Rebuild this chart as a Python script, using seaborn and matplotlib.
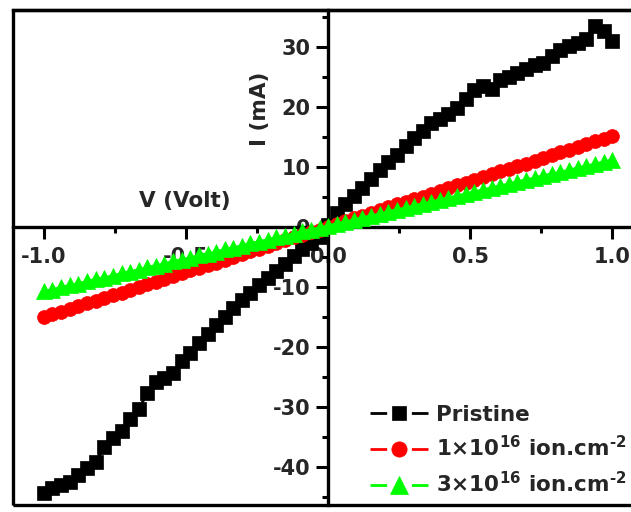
import matplotlib
matplotlib.use("Agg")
import matplotlib.pyplot as plt
from matplotlib.patches import Rectangle
from matplotlib.ticker import MultipleLocator
import seaborn as sns
import pandas as pd

# Bias voltage sweep (V)
voltage = [
    -1.000, -0.970, -0.939, -0.909, -0.879, -0.848, -0.818, -0.788, -0.758, -0.727,
    -0.697, -0.667, -0.636, -0.606, -0.576, -0.545, -0.515, -0.485, -0.455, -0.424,
    -0.394, -0.364, -0.333, -0.303, -0.273, -0.242, -0.212, -0.182, -0.152, -0.121,
    -0.091, -0.061, -0.030, 0.000, 0.030, 0.061, 0.091, 0.121, 0.152, 0.182,
    0.212, 0.242, 0.273, 0.303, 0.333, 0.364, 0.394, 0.424, 0.455, 0.485,
    0.515, 0.545, 0.576, 0.606, 0.636, 0.667, 0.697, 0.727, 0.758, 0.788,
    0.818, 0.848, 0.879, 0.909, 0.939, 0.970, 1.000,
]

# Current (mA) for each sample
current_pristine = [
    -44.4, -43.6, -43.1, -42.6, -41.4, -40.2, -39.2, -36.8, -35.3, -34.0,
    -32.0, -30.4, -27.8, -25.9, -25.2, -24.4, -22.4, -21.0, -19.4, -17.9,
    -16.4, -15.0, -13.5, -12.2, -11.1, -9.7, -8.5, -7.4, -6.2, -4.9,
    -3.8, -2.8, -1.7, 0.2, 2.3, 3.7, 5.1, 6.5, 8.0, 9.4,
    10.7, 12.0, 13.5, 14.7, 16.0, 17.3, 18.0, 18.7, 19.8, 21.2,
    22.8, 23.4, 23.0, 24.4, 25.0, 25.6, 26.2, 26.9, 27.2, 28.5,
    29.5, 30.1, 30.6, 31.2, 33.5, 32.6, 31.0,
]
current_1e16 = [
    -15.1, -14.6, -14.2, -13.7, -13.3, -12.8, -12.4, -11.9, -11.4, -11.0,
    -10.5, -10.1, -9.6, -9.2, -8.7, -8.2, -7.8, -7.3, -6.9, -6.4,
    -6.0, -5.5, -5.0, -4.6, -4.1, -3.7, -3.2, -2.7, -2.3, -1.8,
    -1.4, -0.9, -0.5, 0.0, 0.5, 0.9, 1.4, 1.8, 2.3, 2.7,
    3.2, 3.7, 4.1, 4.6, 5.0, 5.5, 6.0, 6.4, 6.9, 7.3,
    7.8, 8.2, 8.7, 9.2, 9.6, 10.1, 10.5, 11.0, 11.4, 11.9,
    12.4, 12.8, 13.3, 13.7, 14.2, 14.6, 15.1,
]
current_3e16 = [
    -10.8, -10.5, -10.1, -9.8, -9.5, -9.1, -8.8, -8.5, -8.2, -7.8,
    -7.5, -7.2, -6.8, -6.5, -6.2, -5.8, -5.5, -5.2, -4.8, -4.5,
    -4.2, -3.8, -3.5, -3.2, -2.8, -2.5, -2.2, -1.8, -1.5, -1.2,
    -0.8, -0.5, -0.2, 0.1, 0.5, 0.8, 1.1, 1.5, 1.8, 2.1,
    2.5, 2.8, 3.1, 3.5, 3.8, 4.1, 4.5, 4.8, 5.1, 5.5,
    5.8, 6.1, 6.5, 6.8, 7.1, 7.5, 7.8, 8.1, 8.5, 8.8,
    9.1, 9.4, 9.8, 10.1, 10.4, 10.8, 11.1,
]

series_labels = [
    "Pristine",
    "1\u00d710$^{16}$ ion.cm$^{\\text{-2}}$",
    "3\u00d710$^{16}$ ion.cm$^{\\text{-2}}$",
]
x_ticks = [-1.0, -0.5, 0.0, 0.5, 1.0]
y_ticks = [-40, -30, -20, -10, 0, 10, 20, 30]

sns.set_style("ticks")
plt.rcParams["font.family"] = ["DejaVu Sans"]
plt.rcParams["font.weight"] = "bold"
plt.rcParams["axes.unicode_minus"] = False
plt.rcParams["lines.scale_dashes"] = False
plt.rcParams["mathtext.fontset"] = "custom"
plt.rcParams["mathtext.rm"] = "DejaVu Sans:bold"
plt.rcParams["mathtext.it"] = "DejaVu Sans:bold"
plt.rcParams["mathtext.bf"] = "DejaVu Sans:bold"
plt.rcParams["mathtext.default"] = "rm"

fig = plt.figure(figsize=(6.31, 5.12), dpi=100)
ax = fig.add_axes([0.0206, 0.0137, 0.985, 0.9668])

df = pd.DataFrame({
    "V": voltage * 3,
    "I": current_pristine + current_1e16 + current_3e16,
    "sample": [series_labels[0]] * len(voltage)
    + [series_labels[1]] * len(voltage)
    + [series_labels[2]] * len(voltage),
})

styles = [
    dict(color="black", marker="s", markersize=9.5, legend_size=9.5),
    dict(color="#ff0000", marker="o", markersize=10, legend_size=11),
    dict(color="#00ff00", marker="^", markersize=11.5, legend_size=13),
]
for label, st in zip(series_labels, styles):
    sub = df[df["sample"] == label]
    sns.lineplot(
        data=sub, x="V", y="I", ax=ax, label=label,
        color=st["color"], marker=st["marker"], markersize=st["markersize"],
        markeredgewidth=0.5, markeredgecolor=st["color"],
        linewidth=2, zorder=3, estimator=None, sort=False,
    )

ax.set_xlim(-1.109, 1.079)
ax.set_ylim(-46.4, 36.1)

# Cross-shaped axes through the origin, plus an outer frame
ax.spines["left"].set_position("zero")
ax.spines["bottom"].set_position("zero")
ax.spines["right"].set_visible(False)
for s in ("left", "bottom", "top"):
    ax.spines[s].set_linewidth(2.4)
    ax.spines[s].set_color("black")
ax.add_patch(Rectangle((0, 0), 1, 1, transform=ax.transAxes, fill=False,
                       edgecolor="black", linewidth=2.4, clip_on=False, zorder=4))

ax.set_xticks(x_ticks)
ax.set_yticks(y_ticks)
ax.set_xticklabels([f"{t:.1f}" for t in x_ticks])
ax.set_yticklabels([str(t) for t in y_ticks])
ax.xaxis.set_minor_locator(MultipleLocator(0.25))
ax.yaxis.set_minor_locator(MultipleLocator(5))
ax.tick_params(which="major", direction="out", length=8.5, width=2.2,
               labelsize=15, color="black")
ax.tick_params(axis="x", which="major", pad=6)
ax.tick_params(axis="y", which="major", pad=4)
ax.tick_params(which="minor", direction="out", length=4.5, width=2.2, color="black")
ax.tick_params(axis="both", which="both", top=False, right=False)
for lbl in ax.get_xticklabels() + ax.get_yticklabels():
    lbl.set_fontweight("bold")

ax.set_xlabel("V (Volt)", fontsize=15.5, fontweight="bold")
ax.set_ylabel("I (mA)", fontsize=15.5, fontweight="bold")
ax.xaxis.set_label_coords(-0.504, 4.2, transform=ax.transData)
ax.yaxis.set_label_coords(-0.241, 19.7, transform=ax.transData)
ax.xaxis.label.set_va("center")
ax.yaxis.label.set_va("center")

leg = ax.legend(loc="lower left", bbox_to_anchor=(0.574, 0.017), frameon=False,
                fontsize=15.5, handlelength=2.7, handletextpad=0.4,
                labelspacing=0.5, borderpad=0, borderaxespad=0)
for t in leg.get_texts():
    t.set_fontweight("bold")
# Legend keys: short line stubs on each side of the marker
for handle, st in zip(leg.legend_handles, styles):
    handle.set_dashes([12, 17.8, 12, 60])
    handle.set_markersize(st["legend_size"])

fig.savefig("out.png", dpi=100)
